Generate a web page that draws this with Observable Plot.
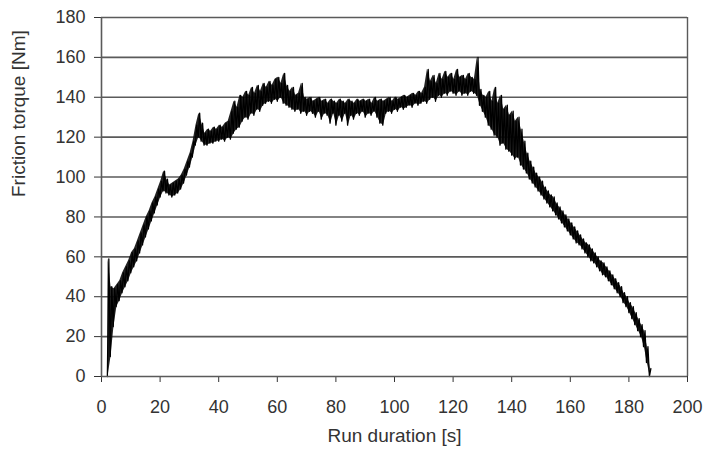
<!DOCTYPE html>
<html>
<head>
<meta charset="utf-8">
<script src="https://cdn.jsdelivr.net/npm/d3@7"></script>
<script src="https://cdn.jsdelivr.net/npm/@observablehq/plot@0.6"></script>
<style>
  html, body { margin: 0; padding: 0; background: #fff; }
  #chart { width: 704px; height: 457px; }
  svg { font-family: "Liberation Sans", Arial, sans-serif; }
</style>
</head>
<body>
<div id="chart"></div>
<script>
// Run duration [s] of each sample window (1 s steps)
const seconds = [
  2,3,4,5,6,7,8,9,10,11,12,13,14,15,16,17,18,19,20,21,22,23,24,25,26,27,28,29,30,31,
  32,33,34,35,36,37,38,39,40,41,42,43,44,45,46,47,48,49,50,51,52,53,54,55,56,57,58,59,60,61,
  62,63,64,65,66,67,68,69,70,71,72,73,74,75,76,77,78,79,80,81,82,83,84,85,86,87,88,89,90,91,
  92,93,94,95,96,97,98,99,100,101,102,103,104,105,106,107,108,109,110,111,112,113,114,115,116,117,118,119,120,121,
  122,123,124,125,126,127,128,129,130,131,132,133,134,135,136,137,138,139,140,141,142,143,144,145,146,147,148,149,150,151,
  152,153,154,155,156,157,158,159,160,161,162,163,164,165,166,167,168,169,170,171,172,173,174,175,176,177,178,179,180,181,
  182,183,184,185,186,187
];
// Friction torque [Nm]: lowest value read in each window
const torqueLow = [
  0,10,25,35,38,42,45,48,52,55,58,62,66,70,74,78,82,86,90,93,92,91,90,91,92,94,97,101,105,110,
  116,120,118,116,116,117,117,118,118,119,118,120,119,122,124,125,128,130,129,132,131,134,133,136,137,138,137,139,138,140,
  137,136,135,134,133,134,132,133,131,133,132,130,133,129,132,131,127,132,126,131,128,132,126,131,129,132,131,133,130,132,
  131,133,130,127,126,132,133,132,134,133,135,134,135,136,135,137,136,137,138,137,139,140,138,141,140,142,141,143,142,141,
  143,141,142,141,143,142,141,136,133,130,126,124,121,120,116,117,114,113,111,109,110,106,104,102,99,97,95,93,91,89,
  87,85,83,81,79,77,75,73,71,69,67,66,64,62,60,58,57,55,53,51,50,48,46,44,42,40,37,35,32,29,
  26,23,20,15,7,0
];
// Friction torque [Nm]: highest value read in each window
const torqueHigh = [
  59,45,44,46,48,52,55,58,62,64,68,72,76,80,83,87,90,94,98,103,99,96,97,98,99,101,104,108,112,118,
  126,132,127,122,124,123,125,124,126,125,127,128,133,138,135,141,140,143,141,145,142,146,143,147,145,148,146,149,150,147,
  152,146,143,145,141,142,147,140,139,140,138,139,140,138,139,137,139,138,137,139,138,137,139,138,137,139,138,139,138,139,
  137,140,138,139,138,139,140,138,140,139,140,141,140,141,142,141,143,142,145,154,148,151,147,152,149,153,150,152,149,154,
  150,151,149,152,150,149,160,144,141,140,143,138,145,137,141,134,136,131,133,128,130,124,118,112,108,105,102,100,98,95,
  93,91,90,87,85,83,81,79,77,75,73,71,69,67,66,64,62,60,58,57,55,53,51,49,47,45,42,40,37,35,
  32,29,26,23,15,4
];
const xTicks = [0, 20, 40, 60, 80, 100, 120, 140, 160, 180, 200];
const yTicks = [0, 20, 40, 60, 80, 100, 120, 140, 160, 180];
const xLabel = "Run duration [s]";
const yLabel = "Friction torque [Nm]";

// noisy trace: alternate low and high readings within each window
const trace = [];
seconds.forEach((t, i) => {
  trace.push({t: t, v: torqueLow[i]});
  trace.push({t: t + 0.5, v: torqueHigh[i]});
});
const band = seconds.map((t, i) => ({t: t + 0.25, lo: torqueLow[i], hi: torqueHigh[i]}));

const ink = "#333";
const grid = "#5a5a5a";

const chart = Plot.plot({
  width: 704,
  height: 457,
  marginLeft: 101,
  marginRight: 17,
  marginTop: 17,
  marginBottom: 81,
  style: {fontSize: "18px", color: ink, background: "#fff", fontFamily: "'Liberation Sans', Arial, sans-serif"},
  x: {domain: [0, 200], ticks: xTicks, tickSize: 6, tickPadding: 18, tickFormat: d => d, label: null},
  y: {domain: [0, 180], ticks: yTicks, tickSize: 7, tickPadding: 9, tickFormat: d => d, label: null},
  marks: [
    Plot.ruleY(yTicks.filter(d => d > 0), {stroke: grid, strokeWidth: 1.6}),
    Plot.ruleX([200], {stroke: grid, strokeWidth: 1.4}),
    Plot.areaY(band, {x: "t", y1: "lo", y2: "hi", fill: "#0a0a0a", fillOpacity: 0.9, curve: "linear"}),
    Plot.line(trace, {x: "t", y: "v", stroke: "#000", strokeWidth: 1.3}),
    Plot.ruleY([0], {stroke: grid, strokeWidth: 1.6}),
    Plot.ruleX([0], {stroke: grid, strokeWidth: 1.6}),
    Plot.text([xLabel], {frameAnchor: "bottom", dy: 65, fontSize: 19, fill: ink}),
    Plot.text([yLabel], {frameAnchor: "left", dx: -83, rotate: -90, fontSize: 19, fill: ink})
  ]
});
document.getElementById("chart").appendChild(chart);
</script>
</body>
</html>
